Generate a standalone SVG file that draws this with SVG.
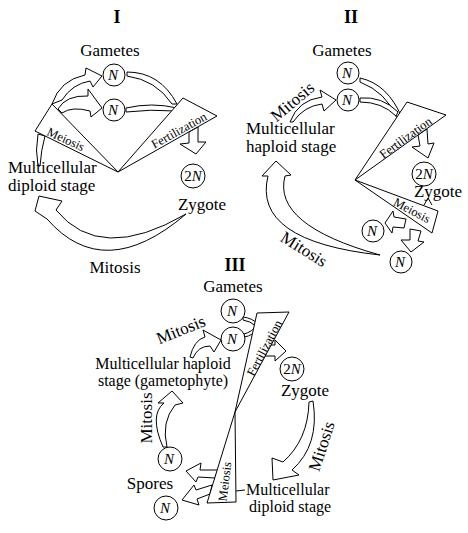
<svg xmlns="http://www.w3.org/2000/svg" width="468" height="533" viewBox="0 0 468 533">
<style>
text{font-family:"Liberation Serif","Times New Roman",serif;fill:#000}
.lbl{font-size:17px}
.sm{font-size:16px}
.ttl{font-size:18px;font-weight:bold}
.ban{font-size:12.5px}
.n{font-size:15px;font-style:italic}
.up{font-style:normal}
.sh{fill:#fff;stroke:#000;stroke-width:1;stroke-linejoin:miter}
.ln{fill:none;stroke:#000;stroke-width:1}
</style>
<rect width="468" height="533" fill="#fff"/>

<g id="connectors">
  <!-- Diagram I -->
  <path class="sh" d="M 52,104 Q 60,80 85,75 L 86,68 L 102,76 L 93,87 L 90,81 Q 72,84 62,100 Z"/>
  <path class="sh" d="M 58,109 Q 66,95 88,96 L 88,89 L 102,108 L 91,117 L 90,111 Q 72,106 62,113 Z"/>
  <path class="sh" d="M 127,72 Q 160,72 177,104 L 172,104 Q 156,80 127,76 Z"/>
  <path class="sh" d="M 126,108 Q 152,102 177,108 L 176,111 Q 150,109 126,112 Z"/>
  <path class="sh" d="M 189,132 L 189,143 L 180,144 L 196,154 L 206,142 L 198,142 L 198,127 Z"/>
  <path class="sh" d="M 38,134 Q 35,150 38,166 L 40,166 Q 41,150 45,136 Z"/>
  <path class="sh" d="M 186,214 Q 104,284 47,219 L 35,211 L 39,196 L 62,201 L 56,210 Q 100,264 186,214 Z"/>

  <!-- Diagram II -->
  <path class="sh" d="M 290,122 Q 298,100 322,97 L 320,90 L 336,100 L 324,111 L 322,104 Q 304,106 293,122 Z"/>
  <path class="sh" d="M 360,78 Q 388,84 402,118 L 397,118 Q 386,92 360,82 Z"/>
  <path class="sh" d="M 360,98 Q 382,96 398,112 L 396,116 Q 382,102 360,102 Z"/>
  <path class="sh" d="M 418,135 L 420,146 L 412,147 L 428,158 L 434,143 L 428,144 L 427,129 Z"/>
  <path class="sh" d="M 380,255 Q 252,241 268,176 L 262,176 L 276,161 L 291,175 L 285,176 Q 272,225 380,255 Z"/>
  <path class="sh" d="M 406,219 L 394,217 L 393,211 L 385,223 L 392,233 L 393,227 L 404,228 Z"/>
  <path class="sh" d="M 410,229 L 410,240 L 401,240 L 411,252 L 424,242 L 418,241 L 421,231 Z"/>
  <path class="ln" d="M 424,205 L 428,198 L 432,205"/>

  <!-- Diagram III -->
  <path class="sh" d="M 243,317 Q 252,318 258,324 L 256,326 Q 250,321 243,320 Z"/>
  <path class="sh" d="M 244,334 Q 252,332 257,325 L 259,327 Q 253,336 244,337 Z"/>
  <path class="sh" d="M 266,345 L 275,345 L 275,340 L 286,351 L 275,361 L 275,356 L 262,356 Z"/>
  <path class="sh" d="M 190,357 Q 194,340 205,337 L 203,330 L 221,340 L 214,352 L 210,346 Q 198,346 193,358 Z"/>
  <path class="sh" d="M 163,447 Q 149,415 164,403 L 158,403 L 172,391 L 183,403 L 175,405 Q 161,422 167,447 Z"/>
  <path class="sh" d="M 313,401 Q 320,445 292,470 L 299,475 L 273,480 L 272,458 L 283,462 Q 308,440 309,402 Z"/>
  <path class="sh" d="M 218,470 L 200,470 L 201,463 L 186,471 L 196,482 L 198,477 L 215,478 Z"/>
  <path class="sh" d="M 212,485 L 196,490 L 194,485 L 182,500 L 199,505 L 197,499 L 210,494 Z"/>
  <path class="ln" d="M 236,491 L 245,490"/>
</g>

<!-- Diagram I -->
<g id="I-title"><text class="ttl" x="117" y="23" text-anchor="middle">I</text></g>
<g id="I-meiosis">
  <polygon class="sh" points="118,172 52,104 35,131"/>
  <text class="ban" transform="translate(64,143) rotate(25)" text-anchor="middle">Meiosis</text>
</g>
<g id="I-fertilization">
  <polygon class="sh" points="118,172 183,98 217,116"/>
  <text class="ban" transform="translate(181,134) rotate(-29)" text-anchor="middle">Fertilization</text>
</g>
<g id="I-gametes"><text class="lbl" x="110" y="56" text-anchor="middle">Gametes</text></g>
<g id="I-N1"><circle class="sh" cx="114" cy="75" r="11"/><text class="n" x="113" y="80" text-anchor="middle">N</text></g>
<g id="I-N2"><circle class="sh" cx="114" cy="110" r="11"/><text class="n" x="113" y="115" text-anchor="middle">N</text></g>
<g id="I-2N"><circle class="sh" cx="193" cy="176" r="12"/><text class="n" x="193" y="181" text-anchor="middle"><tspan class="up">2</tspan>N</text></g>
<g id="I-zygote"><text class="lbl" x="202" y="210" text-anchor="middle">Zygote</text></g>
<g id="I-diploid"><text class="lbl" x="8" y="173">Multicellular</text><text class="lbl" x="8" y="191">diploid stage</text></g>
<g id="I-mitosis"><text class="lbl" x="115" y="273" text-anchor="middle">Mitosis</text></g>

<!-- Diagram II -->
<g id="II-title"><text class="ttl" x="351" y="23" text-anchor="middle">II</text></g>
<g id="II-fertilization">
  <polygon class="sh" points="355,180 407,102 446,115"/>
  <text class="ban" transform="translate(408,141) rotate(-36)" text-anchor="middle">Fertilization</text>
</g>
<g id="II-meiosis">
  <polygon class="sh" points="355,180 438,211 432,233"/>
  <text class="ban" transform="translate(410,214) rotate(28)" text-anchor="middle">Meiosis</text>
</g>
<g id="II-gametes"><text class="lbl" x="342" y="56" text-anchor="middle">Gametes</text></g>
<g id="II-N1"><circle class="sh" cx="348" cy="73" r="11"/><text class="n" x="347" y="78" text-anchor="middle">N</text></g>
<g id="II-N2"><circle class="sh" cx="348" cy="100" r="11"/><text class="n" x="347" y="105" text-anchor="middle">N</text></g>
<g id="II-mitosis1"><text class="lbl" transform="translate(296,106) rotate(-40)" text-anchor="middle">Mitosis</text></g>
<g id="II-haploid"><text class="lbl" x="246" y="134">Multicellular</text><text class="lbl" x="246" y="152">haploid stage</text></g>
<g id="II-2N"><circle class="sh" cx="424" cy="174" r="12"/><text class="n" x="424" y="179" text-anchor="middle"><tspan class="up">2</tspan>N</text></g>
<g id="II-zygote"><text class="lbl" x="438" y="197" text-anchor="middle">Zygote</text></g>
<g id="II-N3"><circle class="sh" cx="373" cy="231" r="11"/><text class="n" x="372" y="236" text-anchor="middle">N</text></g>
<g id="II-N4"><circle class="sh" cx="401" cy="262" r="11"/><text class="n" x="400" y="267" text-anchor="middle">N</text></g>
<g id="II-mitosis2"><text class="lbl" transform="translate(301,254) rotate(32)" text-anchor="middle">Mitosis</text></g>

<!-- Diagram III -->
<g id="III-title"><text class="ttl" x="235" y="271" text-anchor="middle">III</text></g>
<g id="III-fertilization">
  <polygon class="sh" points="235,412 257,313 289,312"/>
  <text class="ban" transform="translate(268,350) rotate(-62)" text-anchor="middle">Fertilization</text>
</g>
<g id="III-meiosis">
  <polygon class="sh" points="235,412 207,503 236,502"/>
  <text class="ban" transform="translate(229,482) rotate(-83)" text-anchor="middle">Meiosis</text>
</g>
<g id="III-gametes"><text class="lbl" x="233" y="292" text-anchor="middle">Gametes</text></g>
<g id="III-N1"><circle class="sh" cx="233" cy="311" r="12"/><text class="n" x="232" y="316" text-anchor="middle">N</text></g>
<g id="III-N2"><circle class="sh" cx="233" cy="339" r="12"/><text class="n" x="232" y="344" text-anchor="middle">N</text></g>
<g id="III-mitosis1"><text class="lbl" transform="translate(183,335) rotate(-22)" text-anchor="middle">Mitosis</text></g>
<g id="III-haploid"><text class="sm" x="163" y="369" text-anchor="middle">Multicellular haploid</text><text class="sm" x="163" y="386" text-anchor="middle">stage (gametophyte)</text></g>
<g id="III-2N"><circle class="sh" cx="292" cy="369" r="12"/><text class="n" x="292" y="374" text-anchor="middle"><tspan class="up">2</tspan>N</text></g>
<g id="III-zygote"><text class="lbl" x="305" y="396" text-anchor="middle">Zygote</text></g>
<g id="III-mitosis2"><text class="lbl" transform="translate(152,418) rotate(-90)" text-anchor="middle">Mitosis</text></g>
<g id="III-mitosis3"><text class="lbl" transform="translate(327,448) rotate(-72)" text-anchor="middle">Mitosis</text></g>
<g id="III-N3"><circle class="sh" cx="170" cy="459" r="12"/><text class="n" x="169" y="464" text-anchor="middle">N</text></g>
<g id="III-spores"><text class="lbl" x="150" y="489" text-anchor="middle">Spores</text></g>
<g id="III-N4"><circle class="sh" cx="166" cy="508" r="12"/><text class="n" x="165" y="513" text-anchor="middle">N</text></g>
<g id="III-diploid"><text class="sm" x="246" y="495">Multicellular</text><text class="sm" x="249" y="512">diploid stage</text></g>
</svg>
